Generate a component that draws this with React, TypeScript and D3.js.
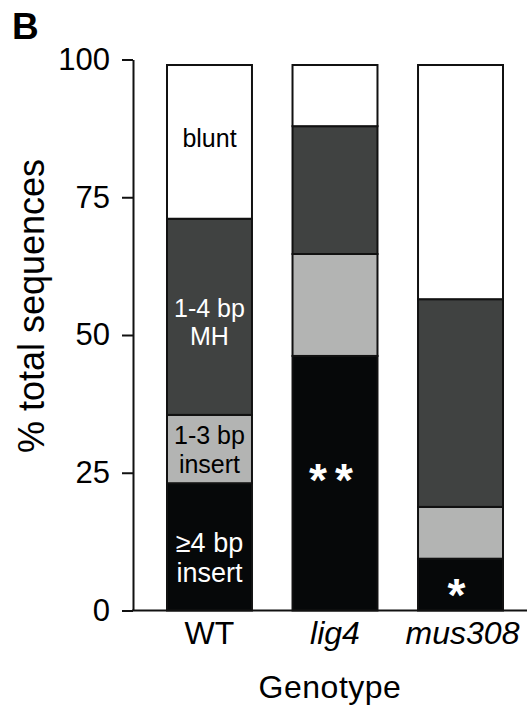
import { Component } from 'react';
import * as d3 from 'd3';

// data (percent of total sequences)
const genotypes = ["WT", "lig4", "mus308"];
const classes = ["insert4", "insert13", "mh14", "blunt"];
const insert4 = [23.1, 46.2, 9.4];   // >=4 bp insert
const insert13 = [12.4, 18.5, 9.4];  // 1-3 bp insert
const mh14 = [35.6, 23.2, 37.7];     // 1-4 bp MH
const blunt = [27.9, 11.1, 42.5];    // blunt
const yTicks = [0, 25, 50, 75, 100];

// labels written in the WT bar, and where (in % units) they sit
const wtLabels = [["blunt"], ["1-4 bp", "MH"], ["1-3 bp", "insert"], ["\u22654 bp", "insert"]];
const wtLabelAt = [85.7, 52.3, 29.2, 9.7];

// significance marks
const stars = ["", "**", "*"];
const starAt = [0, 25.4, 4.6];

export default class App extends Component {

    componentDidMount() {
        this.renderChart();
    }

    renderChart() {
        const width = 527;
        const height = 710;
        const font = "'Liberation Sans', Arial, Helvetica, sans-serif";

        const colors: Record<string, string> = {
            insert4: "#060809",
            insert13: "#b3b4b3",
            mh14: "#404241",
            blunt: "#ffffff"
        };
        const labelColors = ["#000", "#fff", "#000", "#fff"];

        const root = d3.select(".chart");
        root.selectAll("*").remove();

        const svg = root.append("svg")
            .attr("width", width)
            .attr("height", height)
            .style("position", "absolute")
            .style("left", "0px")
            .style("top", "0px")
            .style("font-family", font);

        // build rows for the stack
        const rows = genotypes.map((g, i) => ({
            genotype: g,
            insert4: insert4[i],
            insert13: insert13[i],
            mh14: mh14[i],
            blunt: blunt[i]
        }));
        const series = d3.stack<any>().keys(classes)(rows);

        // scales
        const axis_x = 133;
        const y_scale = d3.scaleLinear()
            .domain([0, 100])
            .range([610.5, 59.5]);

        const x_scale = d3.scaleBand()
            .domain(genotypes)
            .range([167, 503])
            .paddingInner(0.323)
            .paddingOuter(0);

        // bars
        svg.append("g")
            .selectAll("g")
            .data(series).enter()
            .append("g")
            .attr("fill", (d) => colors[d.key])
            .selectAll("rect")
            .data((d) => d).enter()
            .append("rect")
            .attr("x", (d: any) => x_scale(d.data.genotype) as number)
            .attr("y", (d) => y_scale(d[1]))
            .attr("width", x_scale.bandwidth())
            .attr("height", (d) => y_scale(d[0]) - y_scale(d[1]))
            .attr("stroke", "#111")
            .attr("stroke-width", 2);

        // y axis
        const y_axis = d3.axisLeft(y_scale)
            .tickValues(yTicks)
            .tickSize(11)
            .tickSizeOuter(0)
            .tickPadding(12);
        const gy = svg.append("g")
            .attr("transform", "translate(" + axis_x + ", 0)")
            .call(y_axis);
        gy.select(".domain").attr("stroke", "#111").attr("stroke-width", 2);
        gy.selectAll(".tick line").attr("stroke", "#111").attr("stroke-width", 2);
        gy.selectAll(".tick text")
            .attr("fill", "#000")
            .style("font-family", font)
            .style("font-size", "31px");

        svg.append("text")
            .attr("text-anchor", "middle")
            .attr("transform", "translate(44, 306) rotate(-90)")
            .style("font-size", "36px")
            .text("% total sequences");

        // x axis
        svg.append("line")
            .attr("x1", axis_x - 1)
            .attr("x2", width)
            .attr("y1", y_scale(0))
            .attr("y2", y_scale(0))
            .attr("stroke", "#111")
            .attr("stroke-width", 2);

        svg.selectAll(".x-label")
            .data(genotypes).enter()
            .append("text")
            .attr("class", "x-label")
            .attr("text-anchor", "middle")
            .attr("x", (d) => (x_scale(d) as number) + x_scale.bandwidth() / 2 + (d === "mus308" ? 2 : 0))
            .attr("y", 644)
            .style("font-size", "32px")
            .style("font-style", (d) => d === "WT" ? "normal" : "italic")
            .text((d) => d);

        svg.append("text")
            .attr("text-anchor", "middle")
            .attr("x", 330)
            .attr("y", 698)
            .style("font-size", "32px")
            .style("letter-spacing", "0.5px")
            .text("Genotype");

        // labels inside the WT bar
        const wt_center = (x_scale("WT") as number) + x_scale.bandwidth() / 2;
        wtLabels.forEach(function(lines, i) {
            const size = i === 3 ? 27 : 25;
            const lh = size * 1.13;
            const first = y_scale(wtLabelAt[i]) - (lines.length - 1) * lh / 2 + size * 0.36;
            const t = svg.append("text")
                .attr("text-anchor", "middle")
                .attr("fill", labelColors[i])
                .style("font-size", size + "px");
            lines.forEach(function(line, j) {
                t.append("tspan")
                    .attr("x", wt_center)
                    .attr("y", first + j * lh)
                    .text(line);
            });
        });

        // stars
        const star_size = 46;
        svg.selectAll(".star")
            .data(genotypes.filter((g, i) => stars[i] !== "")).enter()
            .append("text")
            .attr("class", "star")
            .attr("text-anchor", "middle")
            .attr("fill", "#fff")
            .attr("x", (d) => (x_scale(d) as number) + x_scale.bandwidth() / 2)
            .attr("y", (d) => y_scale(starAt[genotypes.indexOf(d)]) + star_size * 0.56)
            .style("font-size", star_size + "px")
            .style("font-weight", "bold")
            .style("letter-spacing", "8px")
            .text((d) => stars[genotypes.indexOf(d)]);

        // panel letter
        svg.append("text")
            .attr("x", 12)
            .attr("y", 39)
            .style("font-size", "37px")
            .style("font-weight", "bold")
            .text("B");
    }

    render() {
        return (
            <div className="chart" />
        );
    }

}
